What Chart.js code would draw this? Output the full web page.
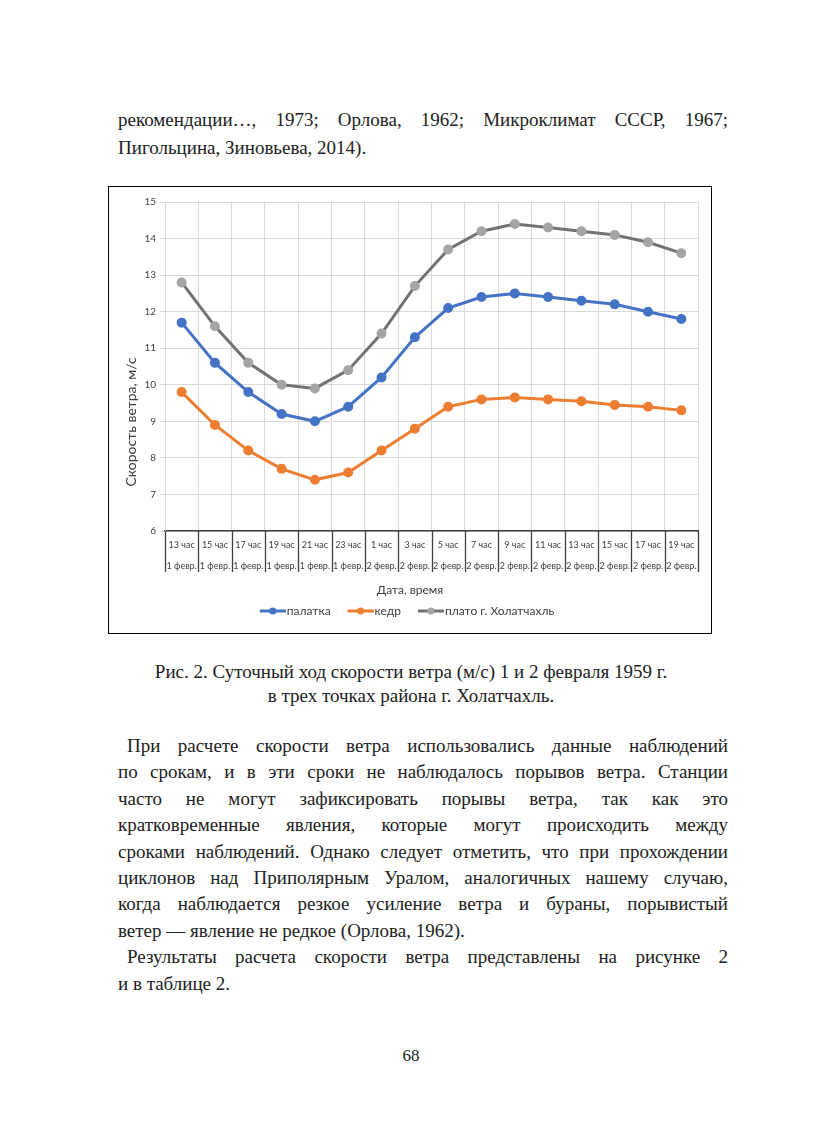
<!DOCTYPE html>
<html lang="ru">
<head>
<meta charset="utf-8">
<title>Суточный ход скорости ветра</title>
<script src="https://cdn.jsdelivr.net/npm/chart.js@4/dist/chart.umd.min.js"></script>
<style>
    html, body {
        margin: 0;
        padding: 0;
        background: #fff;
    }
    .page {
        position: relative;
        width: 822px;
        height: 1134px;
        font-family: 'Liberation Serif', 'Times New Roman', serif;
        color: #222;
    }
    .text {
        position: absolute;
        left: 118px;
        width: 610px;
        font-size: 19px;
        line-height: 26.4px;
    }
    .ln {
        white-space: nowrap;
        text-align: justify;
        text-align-last: justify;
    }
    .ln.last {
        text-align-last: left;
    }
    .ln.indent {
        padding-left: 9px;
    }
    .top-text {
        top: 106px;
        line-height: 27.5px;
    }
    .chart-box {
        position: absolute;
        left: 108px;
        top: 186px;
        width: 602px;
        height: 446px;
        border: 1px solid #000;
    }
    .caption {
        position: absolute;
        left: 100px;
        width: 622px;
        top: 660px;
        font-size: 19px;
        line-height: 24px;
        text-align: center;
    }
    .body-text {
        top: 733px;
    }
    .page-num {
        position: absolute;
        left: 0;
        width: 822px;
        top: 1046px;
        text-align: center;
        font-size: 17px;
    }
</style>
</head>
<body>
<div class="page">
    <div class="text top-text">
        <div class="ln">рекомендации…, 1973; Орлова, 1962; Микроклимат СССР, 1967;</div>
        <div class="ln last">Пигольцина, Зиновьева, 2014).</div>
    </div>

    <div class="chart-box">
        <canvas id="windChart" width="602" height="446"></canvas>
    </div>

    <div class="caption">Рис. 2. Суточный ход скорости ветра (м/с) 1 и 2 февраля 1959 г.<br>в трех точках района г. Холатчахль.</div>

    <div class="text body-text">
        <div class="ln indent">При расчете скорости ветра использовались данные наблюдений</div>
        <div class="ln">по срокам, и в эти сроки не наблюдалось порывов ветра. Станции</div>
        <div class="ln">часто не могут зафиксировать порывы ветра, так как это</div>
        <div class="ln">кратковременные явления, которые могут происходить между</div>
        <div class="ln">сроками наблюдений. Однако следует отметить, что при прохождении</div>
        <div class="ln">циклонов над Приполярным Уралом, аналогичных нашему случаю,</div>
        <div class="ln">когда наблюдается резкое усиление ветра и бураны, порывистый</div>
        <div class="ln last">ветер — явление не редкое (Орлова, 1962).</div>
        <div class="ln indent">Результаты расчета скорости ветра представлены на рисунке 2</div>
        <div class="ln last">и в таблице 2.</div>
    </div>

    <div class="page-num">68</div>
</div>

<script>
// --- Данные ---
const hours = ['13 час', '15 час', '17 час', '19 час', '21 час', '23 час', '1 час', '3 час',
    '5 час', '7 час', '9 час', '11 час', '13 час', '15 час', '17 час', '19 час'];
const days = ['1 февр.', '1 февр.', '1 февр.', '1 февр.', '1 февр.', '1 февр.', '2 февр.', '2 февр.',
    '2 февр.', '2 февр.', '2 февр.', '2 февр.', '2 февр.', '2 февр.', '2 февр.', '2 февр.'];

const palatka = [11.7, 10.6, 9.8, 9.2, 9.0, 9.4, 10.2, 11.3, 12.1, 12.4, 12.5, 12.4, 12.3, 12.2, 12.0, 11.8];
const kedr = [9.8, 8.9, 8.2, 7.7, 7.4, 7.6, 8.2, 8.8, 9.4, 9.6, 9.65, 9.6, 9.55, 9.45, 9.4, 9.3];
const plato = [12.8, 11.6, 10.6, 10.0, 9.9, 10.4, 11.4, 12.7, 13.7, 14.2, 14.4, 14.3, 14.2, 14.1, 13.9, 13.6];

const yTicks = [6, 7, 8, 9, 10, 11, 12, 13, 14, 15];

const xTitle = 'Дата, время';
const yTitle = 'Скорость ветра, м/с';

const FONT = 'Lato, "Open Sans", sans-serif';
const TEXT_COLOR = '#404040';

// значок легенды: линия с точкой, как в Excel (слева прозрачный отступ)
function legendIcon(lineColor, dotColor) {
    const c = document.createElement('canvas');
    c.width = 38;
    c.height = 10;
    const g = c.getContext('2d');
    g.strokeStyle = lineColor;
    g.lineWidth = 3;
    g.beginPath();
    g.moveTo(12, 5);
    g.lineTo(38, 5);
    g.stroke();
    g.fillStyle = dotColor;
    g.beginPath();
    g.arc(25, 5, 3.5, 0, Math.PI * 2);
    g.fill();
    return c;
}

function series(label, data, line, dot) {
    return {
        label: label,
        data: data,
        borderColor: line,
        backgroundColor: dot,
        pointBackgroundColor: dot,
        pointBorderColor: dot,
        borderWidth: 3,
        pointRadius: 3.5,
        pointHoverRadius: 4,
        tension: 0,
        icon: legendIcon(line, dot)
    };
}

// двухрядные подписи оси X с разделителями + подписи осей
const axisLabels = {
    id: 'axisLabels',
    afterDraw(chart) {
        const x = chart.scales.x;
        const area = chart.chartArea;
        const g = chart.ctx;
        const n = hours.length;
        const px = hours.map((_, i) => x.getPixelForValue(i));
        const half = n > 1 ? (px[1] - px[0]) / 2 : 0;

        g.save();
        // разделители
        g.strokeStyle = '#404040';
        g.lineWidth = 1.3;
        for (let i = 0; i <= n; i++) {
            const bx = Math.round(i < n ? px[i] - half : px[n - 1] + half) + 0.5;
            g.beginPath();
            g.moveTo(bx, area.bottom);
            g.lineTo(bx, area.bottom + 41);
            g.stroke();
        }
        // подписи
        g.fillStyle = TEXT_COLOR;
        g.font = '9px ' + FONT;
        g.textAlign = 'center';
        g.textBaseline = 'middle';
        px.forEach((p, i) => {
            g.fillText(hours[i], p, area.bottom + 14);
            g.fillText(days[i], p, area.bottom + 35);
        });
        // заголовок оси X по центру всей диаграммы
        g.font = '12px ' + FONT;
        g.fillText(xTitle, chart.width / 2, 403);
        // заголовок оси Y
        g.translate(22, 235);
        g.rotate(-Math.PI / 2);
        g.font = '14px ' + FONT;
        g.fillText(yTitle, 0, 0);
        g.restore();
    }
};

const ctx = document.getElementById('windChart');

new Chart(ctx, {
    type: 'line',
    data: {
        labels: hours,
        datasets: [
            series('палатка', palatka, '#4472C4', '#4472C4'),
            series('кедр', kedr, '#ED7D31', '#ED7D31'),
            series('плато г. Холатчахль', plato, '#767171', '#A5A5A5')
        ]
    },
    options: {
        responsive: false,
        animation: false,
        layout: {
            padding: { left: 0, right: 13, top: 15, bottom: 6 }
        },
        plugins: {
            tooltip: { enabled: false },
            legend: {
                position: 'bottom',
                labels: {
                    usePointStyle: true,
                    pointStyleWidth: 28,
                    boxHeight: 10,
                    padding: 10,
                    color: TEXT_COLOR,
                    font: { family: FONT, size: 12 },
                    generateLabels: (chart) => {
                        const items = Chart.defaults.plugins.legend.labels.generateLabels(chart);
                        items.forEach(item => {
                            item.pointStyle = chart.data.datasets[item.datasetIndex].icon;
                        });
                        return items;
                    }
                }
            }
        },
        scales: {
            x: {
                offset: true,
                grid: {
                    offset: true,
                    color: '#d9d9d9',
                    drawTicks: false
                },
                border: { color: '#404040', width: 1.5 },
                ticks: { display: false },
                afterFit: (axis) => { axis.height = 64; }
            },
            y: {
                min: 6,
                max: 15,
                afterBuildTicks: (axis) => {
                    axis.ticks = yTicks.map(v => ({ value: v }));
                },
                grid: {
                    color: '#d9d9d9',
                    tickLength: 5
                },
                border: { color: '#d9d9d9' },
                ticks: {
                    padding: 4,
                    color: TEXT_COLOR,
                    font: { family: FONT, size: 10 }
                },
                afterFit: (axis) => { axis.width = 56; }
            }
        }
    },
    plugins: [axisLabels]
});
</script>
</body>
</html>
